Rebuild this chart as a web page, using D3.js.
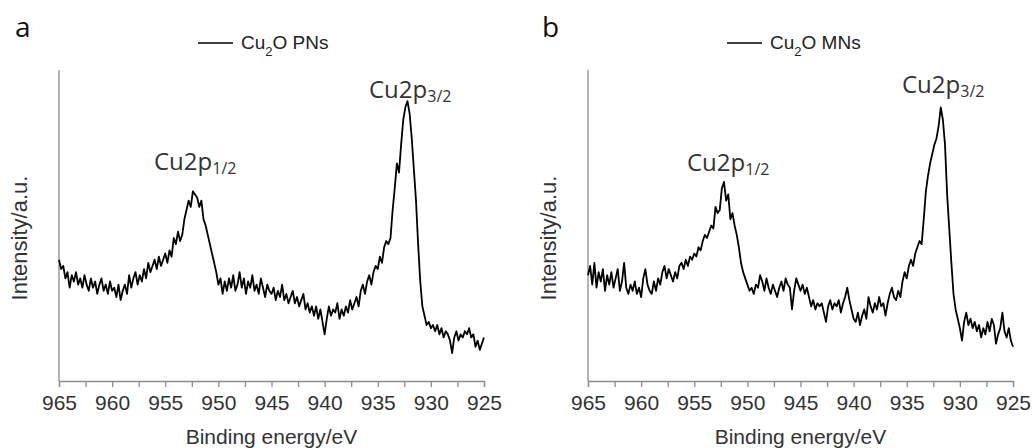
<!DOCTYPE html>
<html>
<head>
<meta charset="utf-8">
<script src="https://cdn.jsdelivr.net/npm/d3@7"></script>
<style>
  body { margin: 0; background: #fff; }
  svg { display: block; }
</style>
</head>
<body>
<div id="chart"></div>
<script>
// Binding energy grid, 965 -> 925 eV in 0.2 eV steps
const energy = d3.range(201).map(i => +(965 - i * 0.2).toFixed(1));

const xTicks = [965, 960, 955, 950, 945, 940, 935, 930, 925];

// Cu2O PNs (panel a), intensity in a.u.
const pnsIntensity = [
  39, 36, 37, 33, 35, 30, 34, 32, 35, 31,
  33, 30, 34, 31, 29, 33, 30, 32, 28, 31,
  33, 29, 31, 28, 32, 29, 30, 27, 31, 26,
  29, 31, 28, 34, 30, 33, 35, 31, 34, 32,
  36, 33, 38, 35, 37, 39, 36, 40, 37, 39,
  41, 38, 42, 40, 46, 44, 48, 45, 47, 52,
  55, 58, 56, 61, 60, 59, 56, 58, 52, 50,
  47, 44, 41, 38, 35, 31, 33, 28, 32, 29,
  33, 30, 34, 29, 31, 35, 30, 33, 28, 32,
  30, 34, 29, 31, 28, 33, 30, 27, 31, 29,
  28, 30, 26, 29, 27, 31, 26, 28, 25, 27,
  29, 25, 27, 24, 26, 28, 23, 25, 22, 24,
  21, 24, 20, 23, 19, 15, 20, 24, 21, 23,
  22, 25, 20, 23, 21, 24, 22, 26, 23, 25,
  27, 24, 29, 31, 28, 32, 34, 31, 35, 37,
  36, 40, 38, 43, 45, 44, 46, 55, 62, 70,
  67, 76, 84, 88, 90, 86, 78, 68, 58, 44,
  32, 24, 21, 18, 19, 17, 18, 16, 18, 15,
  17, 14, 16, 15, 13, 9, 14, 16, 13, 15,
  14, 16, 15, 17, 14, 15, 11, 13, 10, 12,
  14
];

// Cu2O MNs (panel b), intensity in a.u.
const mnsIntensity = [
  34, 37, 31, 38, 30, 35, 32, 36, 29, 34,
  31, 35, 30, 33, 36, 29, 32, 38, 30, 28,
  31, 29, 32, 28, 30, 27, 33, 36, 31, 29,
  28, 32, 29, 33, 31, 35, 37, 33, 36, 34,
  32, 35, 33, 37, 38, 36, 39, 37, 40, 39,
  41, 40, 43, 42, 45, 47, 46, 48, 50, 49,
  56, 54, 55, 62, 64, 58, 60, 52, 54, 50,
  47, 43, 38, 35, 33, 31, 29, 30, 28, 31,
  30, 34, 32, 29, 33, 30, 28, 31, 29, 27,
  30, 32, 29, 33, 31, 30, 23, 29, 33, 31,
  29, 31, 28, 30, 27, 24, 26, 23, 25, 24,
  25, 22, 19, 24, 26, 23, 25, 24, 26, 22,
  25, 27, 30, 26, 23, 20, 19, 22, 18, 21,
  23, 20, 27, 24, 22, 25, 23, 27, 24, 25,
  21, 25, 28, 30, 27, 26, 29, 27, 32, 35,
  33, 37, 39, 37, 41, 43, 45, 44, 52, 61,
  66, 70, 73, 76, 78, 82, 88, 84, 76, 60,
  49, 38, 28, 23, 20, 17, 13, 19, 22, 18,
  20, 17, 19, 16, 18, 14, 17, 15, 19, 16,
  20, 18, 12, 15, 17, 22, 16, 14, 17, 13,
  11
];

const panels = [
  { letter: 'a', name: 'PNs', values: pnsIntensity, left: 59, letterX: 15,
    p32: { x: 369, y: 98 }, p12: { x: 154, y: 170 } },
  { letter: 'b', name: 'MNs', values: mnsIntensity, left: 588, letterX: 542,
    p32: { x: 902, y: 93 }, p12: { x: 687, y: 171 } }
];

const W = 1033, H = 448;
const plotTop = 70, plotBottom = 381, plotWidth = 425;

const svg = d3.select('#chart')
  .append('svg')
  .attr('width', W)
  .attr('height', H);

function drawPanel(p) {
  const x = d3.scaleLinear().domain([965, 925]).range([p.left, p.left + plotWidth]);
  const y = d3.scaleLinear().domain([0, 100]).range([plotBottom, plotTop]);
  const g = svg.append('g');

  // x axis: ticks every 2.5 eV, labels every 5 eV
  const xAxis = d3.axisBottom(x)
    .tickValues(d3.range(965, 924, -2.5))
    .tickSize(6)
    .tickPadding(8)
    .tickFormat(d => xTicks.includes(d) ? d : '');
  const ax = g.append('g')
    .attr('transform', `translate(0,${plotBottom})`)
    .call(xAxis);
  ax.select('.domain').attr('stroke', '#8c8c8c').attr('stroke-width', 1.3);
  ax.selectAll('.tick line').attr('stroke', '#8c8c8c').attr('stroke-width', 1.3);
  ax.selectAll('.tick text')
    .attr('fill', '#333')
    .style('font-family', '"Liberation Sans", Arial, sans-serif')
    .style('font-size', '21px');

  // y axis: plain line
  g.append('line')
    .attr('x1', p.left).attr('x2', p.left)
    .attr('y1', plotTop).attr('y2', plotBottom)
    .attr('stroke', '#8c8c8c').attr('stroke-width', 1.3);

  // spectrum
  const line = d3.line()
    .x((d, i) => x(energy[i]))
    .y(d => y(d));
  g.append('path')
    .datum(p.values)
    .attr('d', line)
    .attr('fill', 'none')
    .attr('stroke', '#000')
    .attr('stroke-width', 1.8)
    .attr('stroke-linejoin', 'round');

  // axis titles
  g.append('text')
    .attr('x', p.left + plotWidth / 2)
    .attr('y', 444)
    .attr('text-anchor', 'middle')
    .attr('fill', '#333')
    .style('font-family', '"Liberation Sans", Arial, sans-serif')
    .style('font-size', '21px')
    .text('Binding energy/eV');

  g.append('text')
    .attr('transform', `translate(${p.left - 32},238) rotate(-90)`)
    .attr('text-anchor', 'middle')
    .attr('fill', '#333')
    .style('font-family', '"Liberation Sans", Arial, sans-serif')
    .style('font-size', '22px')
    .text('Intensity/a.u.');

  // panel letter
  g.append('text')
    .attr('x', p.letterX)
    .attr('y', 37)
    .attr('fill', '#111')
    .style('font-family', '"Open Sans", sans-serif')
    .style('font-size', '28px')
    .text(p.letter);

  // legend
  const lx = p.left + 139;
  g.append('line')
    .attr('x1', lx).attr('x2', lx + 35)
    .attr('y1', 43).attr('y2', 43)
    .attr('stroke', '#000').attr('stroke-width', 1.5);
  const lt = g.append('text')
    .attr('x', lx + 43)
    .attr('y', 49)
    .attr('fill', '#222')
    .style('font-family', '"Liberation Sans", Arial, sans-serif')
    .style('font-size', '19px');
  lt.append('tspan').text('Cu');
  lt.append('tspan').attr('dy', 7).style('font-size', '13px').text('2');
  lt.append('tspan').attr('dy', -7).text('O ' + p.name);

  // peak labels
  [[p.p32, '3/2'], [p.p12, '1/2']].forEach(([pos, sub]) => {
    const t = g.append('text')
      .attr('x', pos.x)
      .attr('y', pos.y)
      .attr('fill', '#333')
      .style('font-family', '"Open Sans", sans-serif')
      .style('font-size', '24px');
    t.append('tspan').text('Cu2p');
    t.append('tspan').attr('dy', 4).style('font-size', '16px').text(sub);
  });
}

panels.forEach(drawPanel);
</script>
</body>
</html>
